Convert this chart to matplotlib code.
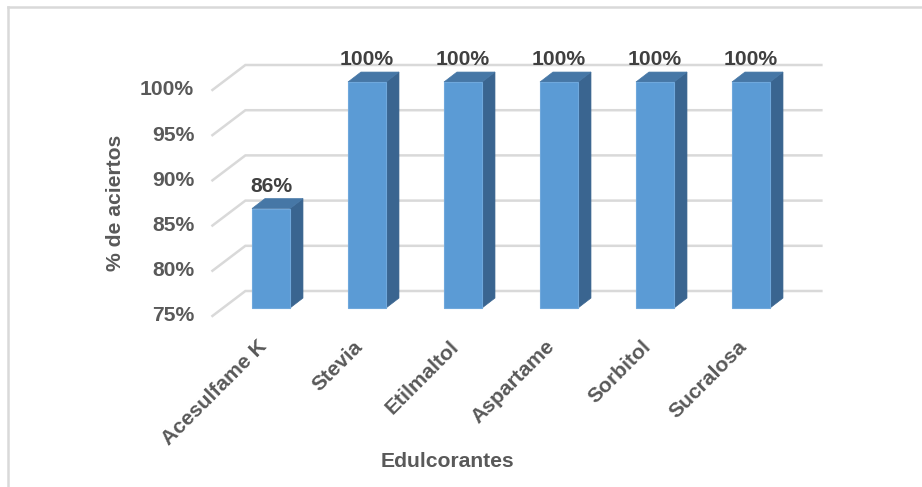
import matplotlib
matplotlib.use("Agg")
import matplotlib.pyplot as plt
from matplotlib.patches import Polygon, Rectangle
from matplotlib.lines import Line2D

plt.rcParams['font.family'] = ['Liberation Sans', 'DejaVu Sans']

# datos
edulcorantes = ['Acesulfame K', 'Stevia', 'Etilmaltol', 'Aspartame', 'Sorbitol', 'Sucralosa']
aciertos = [86, 100, 100, 100, 100, 100]
y_ticks = [75, 80, 85, 90, 95, 100]
y_labels = ['75%', '80%', '85%', '90%', '95%', '100%']

# estilo / pseudo-3D
C_FRONT = '#5b9bd5'
C_TOP = '#4677a6'
C_SIDE = '#3a6590'
C_GRID = '#d9d9d9'
C_TEXT = '#595959'
C_LABEL = '#404040'
BAR_W = 0.396
DEPTH = (0.135, 1.10)     # profundidad de la columna
WALL = (0.233, 1.88)      # desplazamiento de la pared del fondo
FRONT = (-0.110, -0.88)   # borde delantero del suelo
FS = 15.2
Y0 = 75

fig = plt.figure(figsize=(9.22, 4.87), dpi=100)
ax = fig.add_axes([223 / 922, 1 - 308 / 487, 576 / 922, 226 / 487])
ax.set_xlim(-0.5, 5.5)
ax.set_ylim(75, 100)
ax.axis('off')

# rejilla: diagonal en el lateral + horizontal en el fondo
x_left, x_right = -0.5, 5.5
for v, lab in zip(y_ticks, y_labels):
    xs = [x_left + FRONT[0], x_left + WALL[0], x_right + WALL[0]]
    ys = [v + FRONT[1], v + WALL[1], v + WALL[1]]
    ax.plot(xs, ys, color=C_GRID, lw=1.8, clip_on=False, zorder=1,
            solid_joinstyle='miter')
    ax.text(-0.80, v + FRONT[1], lab, ha='right', va='center',
            fontsize=FS, fontweight='bold', color=C_TEXT)

# columnas
for i, (name, v) in enumerate(zip(edulcorantes, aciertos)):
    x0, x1 = i - BAR_W / 2, i + BAR_W / 2
    dx, dy = DEPTH
    side = Polygon([(x1, Y0), (x1 + dx, Y0 + dy), (x1 + dx, v + dy), (x1, v)],
                   closed=True, fc=C_SIDE, ec=C_SIDE, lw=0.5, clip_on=False, zorder=3)
    top = Polygon([(x0, v), (x1, v), (x1 + dx, v + dy), (x0 + dx, v + dy)],
                  closed=True, fc=C_TOP, ec=C_TOP, lw=0.5, clip_on=False, zorder=3)
    front = Rectangle((x0, Y0), BAR_W, v - Y0, fc=C_FRONT, ec='#6fa8dc',
                      lw=0.8, clip_on=False, zorder=4)
    for p in (side, top, front):
        ax.add_patch(p)
    ax.text(i, v + dy + 0.77, f'{v}%', ha='center', va='baseline',
            fontsize=FS, fontweight='bold', color=C_LABEL, zorder=5)
    ax.text(i - 0.145, 71.8, name, rotation=45, rotation_mode='anchor',
            ha='right', va='top', fontsize=FS, fontweight='bold', color=C_TEXT)

# títulos de los ejes
ax.text(-1.615, 86.6, '% de aciertos', rotation=90, ha='center', va='center',
        fontsize=FS, fontweight='bold', color=C_TEXT)
ax.text(1.833, 57.98, 'Edulcorantes', ha='center', va='center',
        fontsize=FS, fontweight='bold', color=C_TEXT)

# marco del gráfico
fig.add_artist(Line2D([8 / 922, 1], [1 - 7 / 487] * 2, color=C_GRID, lw=1.8,
                      transform=fig.transFigure))
fig.add_artist(Line2D([8 / 922] * 2, [1 - 7 / 487, 0], color=C_GRID, lw=1.8,
                      transform=fig.transFigure))

fig.savefig('out.png', dpi=100, facecolor='white')
